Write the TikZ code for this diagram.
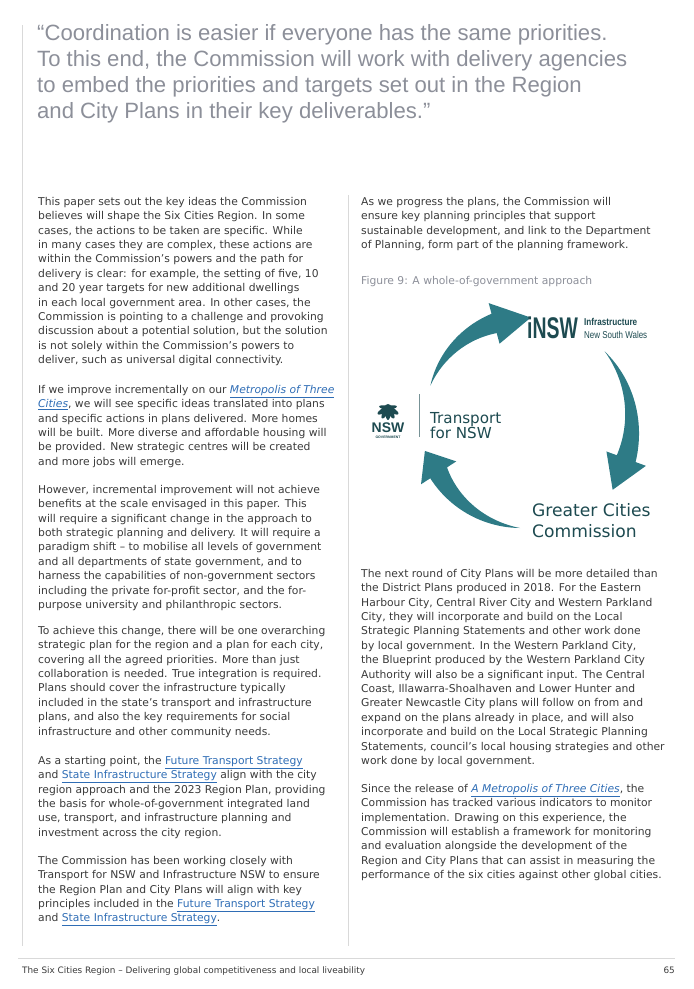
\documentclass[tikz,border=0pt]{standalone}
\usepackage{fontspec}
\setmainfont{DejaVu Sans}
\newfontfamily\quotefont{Liberation Sans}
\usetikzlibrary{positioning}
\definecolor{bodytext}{HTML}{3A3A3A}
\definecolor{quotegrey}{HTML}{8C8F99}
\definecolor{linkblue}{HTML}{2F6DB5}
\definecolor{arrowteal}{HTML}{2E7B86}
\definecolor{darkteal}{HTML}{1D4A50}
\definecolor{rulegrey}{HTML}{D9D9D9}
\newcommand{\lnk}[1]{{\color{linkblue}\underline{#1}}}
% tapered curved arrow: tail angle, head-base angle, tip angle, radii
\newcommand{\bigarrow}[6]{\fill[arrowteal]
   plot[domain=#1:#2,samples=30] (\x:{#4+(#5-#4+10)*(\x-#1)/(#2-#1)})
   -- (#2:#5+21) -- (#3:#6) -- (#2:#5-21)
   -- plot[domain=#2:#1,samples=30] (\x:{#4+(#5-#4-10)*(\x-#1)/(#2-#1)}) -- cycle;}
\tikzset{
  body/.style={anchor=north west, inner sep=0pt, align=left, text=bodytext,
    font=\fontsize{10.8}{14.45}\selectfont},
  quote/.style={anchor=north west, inner sep=0pt, align=left, text=quotegrey,
    font=\quotefont\fontsize{22.2}{26.3}\selectfont},
  frame/.style={draw=rulegrey, line width=0.8pt}
}
\begin{document}
\begin{tikzpicture}[x=1bp,y=-1bp]
\useasboundingbox (0,0) rectangle (694,989);

% frame lines
\draw[frame] (22,25) -- (22,946);
\draw[frame] (348,195) -- (348,946);
\draw[frame] (18,958) -- (675,958);

% quote
\node[quote] (quote) at (37,24) {“Coordination is easier if everyone has the same priorities.\\
To this end, the Commission will work with delivery agencies\\
to embed the priorities and targets set out in the Region\\
and City Plans in their key deliverables.”};

% left column
\node[body] (p1) at (38,197) {This paper sets out the key ideas the Commission\\
believes will shape the Six Cities Region. In some\\
cases, the actions to be taken are specific. While\\
in many cases they are complex, these actions are\\
within the Commission’s powers and the path for\\
delivery is clear: for example, the setting of five, 10\\
and 20 year targets for new additional dwellings\\
in each local government area. In other cases, the\\
Commission is pointing to a challenge and provoking\\
discussion about a potential solution, but the solution\\
is not solely within the Commission’s powers to\\
deliver, such as universal digital connectivity.};
\node[body] (p2) at (38,385) {If we improve incrementally on our \lnk{\itshape Metropolis of Three}\\
\lnk{\itshape Cities}, we will see specific ideas translated into plans\\
and specific actions in plans delivered. More homes\\
will be built. More diverse and affordable housing will\\
be provided. New strategic centres will be created\\
and more jobs will emerge.};
\node[body] (p3) at (38,485) {However, incremental improvement will not achieve\\
benefits at the scale envisaged in this paper. This\\
will require a significant change in the approach to\\
both strategic planning and delivery. It will require a\\
paradigm shift – to mobilise all levels of government\\
and all departments of state government, and to\\
harness the capabilities of non-government sectors\\
including the private for-profit sector, and the for-\\
purpose university and philanthropic sectors.};
\node[body] (p4) at (38,626) {To achieve this change, there will be one overarching\\
strategic plan for the region and a plan for each city,\\
covering all the agreed priorities. More than just\\
collaboration is needed. True integration is required.\\
Plans should cover the infrastructure typically\\
included in the state’s transport and infrastructure\\
plans, and also the key requirements for social\\
infrastructure and other community needs.};
\node[body] (p5) at (38,756) {As a starting point, the \lnk{Future Transport Strategy}\\
and \lnk{State Infrastructure Strategy} align with the city\\
region approach and the 2023 Region Plan, providing\\
the basis for whole-of-government integrated land\\
use, transport, and infrastructure planning and\\
investment across the city region.};
\node[body] (p6) at (38,856) {The Commission has been working closely with\\
Transport for NSW and Infrastructure NSW to ensure\\
the Region Plan and City Plans will align with key\\
principles included in the \lnk{Future Transport Strategy}\\
and \lnk{State Infrastructure Strategy}.};

% right column
\node[body] (r1) at (361,197) {As we progress the plans, the Commission will\\
ensure key planning principles that support\\
sustainable development, and link to the Department\\
of Planning, form part of the planning framework.};
\node[body, text=quotegrey] (caption) at (361,276) {Figure 9: A whole-of-government approach};

% figure
\begin{scope}[shift={(520,420)}]
  \bigarrow{201}{255}{276}{96}{100}{103}
  \bigarrow{321}{380}{397}{109}{113}{116}
  \bigarrow{90}{147}{162}{108}{97}{100}
\end{scope}
\node[anchor=base west, inner sep=0pt, text=darkteal, font=\quotefont\bfseries\fontsize{30}{30}\selectfont, xscale=0.65] (insw) at (527,338) {iNSW};
\node[anchor=base west, inner sep=0pt, text=darkteal, font=\quotefont\bfseries\fontsize{10}{10}\selectfont, xscale=0.82] (infra) at (584,325) {Infrastructure};
\node[anchor=base west, inner sep=0pt, text=darkteal, font=\quotefont\fontsize{10}{10}\selectfont, xscale=0.8] (nsw) at (584,338) {New South Wales};
% waratah
\begin{scope}[shift={(388,408)}]
  \foreach \a in {-60,-30,0,30,60}
    \fill[darkteal, rotate=\a] (0,4) ellipse (2.6 and 8);
  \foreach \a in {-80,80}
    \fill[darkteal, rotate=\a] (0,-2) ellipse (2 and 7);
\end{scope}
\node[anchor=base, inner sep=0pt, text=darkteal, font=\quotefont\bfseries\fontsize{14}{14}\selectfont] (nswlogo) at (388,432) {NSW};
\node[anchor=base, inner sep=0pt, text=darkteal, font=\quotefont\bfseries\fontsize{3.5}{4}\selectfont] (gov) at (388,438) {GOVERNMENT};
\draw[darkteal!60, line width=0.7pt] (419,394) -- (419,437);
\node[anchor=north west, inner sep=0pt, align=left, text=darkteal, font=\fontsize{15.2}{15.5}\selectfont] (tfnsw) at (430,412) {Transport\\for NSW};
\node[anchor=north west, inner sep=0pt, align=left, text=darkteal, font=\fontsize{17.2}{21}\selectfont] (gcc) at (532,503) {Greater Cities\\Commission};

\node[body] (r2) at (361,569) {The next round of City Plans will be more detailed than\\
the District Plans produced in 2018. For the Eastern\\
Harbour City, Central River City and Western Parkland\\
City, they will incorporate and build on the Local\\
Strategic Planning Statements and other work done\\
by local government. In the Western Parkland City,\\
the Blueprint produced by the Western Parkland City\\
Authority will also be a significant input. The Central\\
Coast, Illawarra-Shoalhaven and Lower Hunter and\\
Greater Newcastle City plans will follow on from and\\
expand on the plans already in place, and will also\\
incorporate and build on the Local Strategic Planning\\
Statements, council’s local housing strategies and other\\
work done by local government.};
\node[body] (r3) at (361,784) {Since the release of \lnk{\itshape A Metropolis of Three Cities}, the\\
Commission has tracked various indicators to monitor\\
implementation. Drawing on this experience, the\\
Commission will establish a framework for monitoring\\
and evaluation alongside the development of the\\
Region and City Plans that can assist in measuring the\\
performance of the six cities against other global cities.};

% footer
\node[anchor=base west, inner sep=0pt, text=bodytext, font=\fontsize{8.9}{10}\selectfont] (foot) at (22,973) {The Six Cities Region – Delivering global competitiveness and local liveability};
\node[anchor=base east, inner sep=0pt, text=bodytext, font=\fontsize{8.9}{10}\selectfont] (page) at (675,973) {65};
\end{tikzpicture}
\end{document}
